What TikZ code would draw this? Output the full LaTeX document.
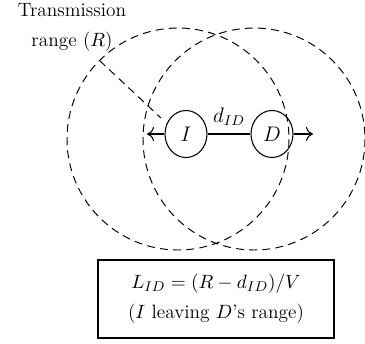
\documentclass[tikz,border=0pt]{standalone}
\usepackage{amsmath}
\usepackage{tikz}
\usetikzlibrary{
  positioning,
  arrows.meta,
  calc,
  shapes.geometric
}

\begin{document}
\begin{tikzpicture}[x=0.02cm,y=-0.02cm,
  rangeline/.style={dash pattern=on 4.5pt off 3pt,line width=0.55pt},
  mnode/.style={draw,ellipse,line width=0.6pt,minimum width=0.84cm,minimum height=0.94cm,inner sep=0pt,font=\fontsize{12.5}{14}\selectfont},
  txt/.style={font=\fontsize{11}{17}\selectfont,align=center}]
  \useasboundingbox (0,0) rectangle (365,343);
  % ranges
  \coordinate (CI) at (178,139);
  \coordinate (CD) at (254,139);
  \draw[rangeline] (CI) circle (111);
  \draw[rangeline] (CD) circle (111);
  % nodes
  \node[mnode] (I) at (186,134) {$I$};
  \node[mnode] (D) at (272,134) {$D$};
  \draw[line width=0.6pt] (I.east) -- node[above=1pt,txt,font=\fontsize{12}{14}\selectfont]{$d_{ID}$} (D.west);
  % moving directions
  \coordinate (Ito) at (147,134);
  \coordinate (Dto) at (313,134);
  \draw[-{To[length=4pt,width=8pt]},line width=0.6pt] (I.west) -- (Ito);
  \draw[-{To[length=4pt,width=8pt]},line width=0.6pt] (D.east) -- (Dto);
  % radius
  \coordinate (Rpt) at ($(CI)+(225:111)$);
  \coordinate (Rend) at (161,118);
  \draw[rangeline] (Rpt) -- (Rend);
  \node[txt] (range) at (72,27) {Transmission\\range ($R$)};
  % formula box
  \node[draw,line width=0.6pt,txt,minimum width=4.72cm,minimum height=1.56cm] (box) at (216,299)
    {$L_{ID} = (R - d_{ID})/V$\\($I$ leaving $D$'s range)};
\end{tikzpicture}
\end{document}
